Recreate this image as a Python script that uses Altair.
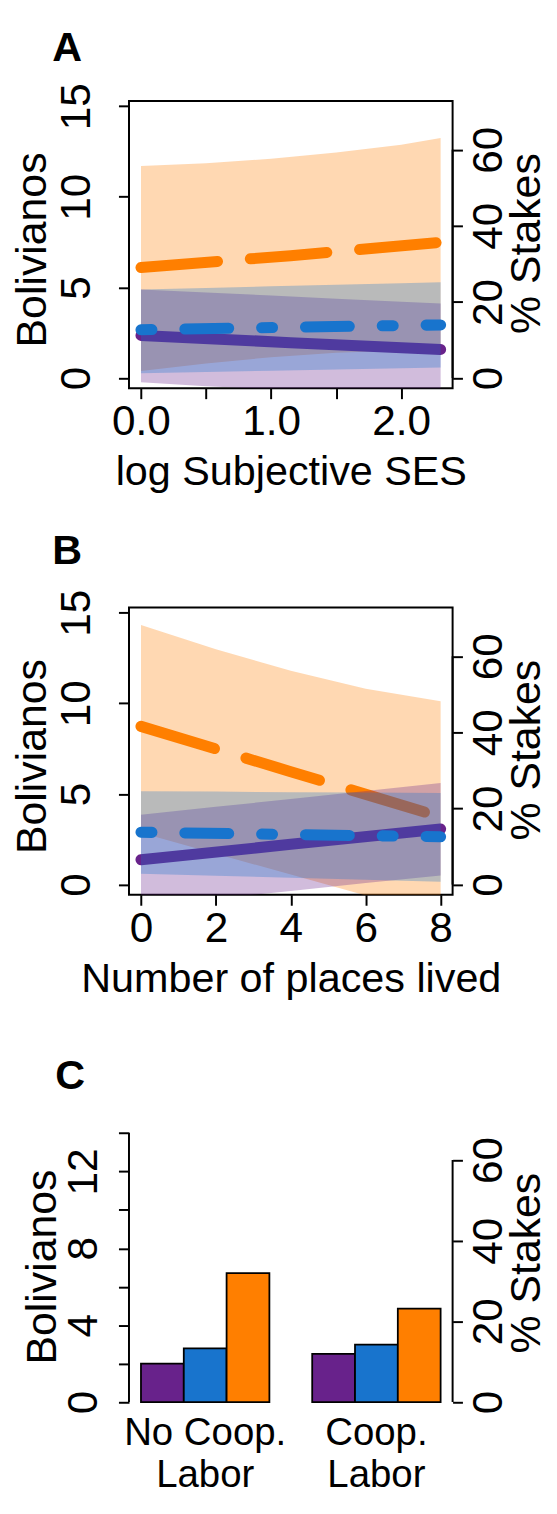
import altair as alt
import pandas as pd

PURPLE = "#68228B"
BLUE = "#1874CD"
ORANGE = "#FF7F00"
FONT = "Liberation Sans"
BS_PER_100PCT = 21.0  # Bolivianos that correspond to 100 % of the stakes

# ---------------- Panel A: log Subjective SES ----------------
a_band_x = [0.0, 0.5, 1.0, 1.5, 2.0, 2.3026]
a_orange_lo = [0.38, 0.80, 1.15, 1.40, 1.52, 1.57]
a_orange_hi = [11.70, 11.85, 12.10, 12.45, 12.87, 13.24]
a_blue_lo = [0.26, 0.33, 0.40, 0.47, 0.54, 0.58]
a_blue_hi = [4.88, 4.97, 5.06, 5.15, 5.23, 5.28]
a_purple_lo = [-0.23, -0.45, -0.62, -0.75, -0.86, -0.92]
a_purple_hi = [4.88, 4.72, 4.55, 4.38, 4.21, 4.11]
a_line_x = [0.0, 1.15, 2.3026]
a_orange_fit = [6.10, 6.75, 7.49]
a_blue_fit = [2.66, 2.80, 2.93]
a_purple_fit = [2.35, 1.95, 1.57]

# ---------------- Panel B: Number of places lived ----------------
b_band_x = [0, 2, 4, 6, 8]
b_orange_lo = [2.86, 1.70, 0.55, -0.60, -1.70]
b_orange_hi = [14.33, 12.98, 11.80, 10.81, 10.12]
b_blue_lo = [0.60, 0.49, 0.38, 0.26, 0.15]
b_blue_hi = [5.15, 5.13, 5.10, 5.08, 5.06]
b_purple_lo = [-1.20, -0.77, -0.35, 0.08, 0.50]
b_purple_hi = [3.85, 4.29, 4.72, 5.16, 5.60]
b_line_x = [0, 4, 8]
b_orange_fit = [8.73, 6.23, 3.73]
b_blue_fit = [2.89, 2.76, 2.64]
b_purple_fit = [1.37, 2.22, 3.07]

# ---------------- Panel C: cooperative labor ----------------
c_groups = ["No Coop. Labor", "Coop. Labor"]
c_series = ["s1", "s2", "s3"]
c_no_coop = [2.00, 2.79, 6.71]
c_coop = [2.51, 2.99, 4.86]

# ---------------- styling ----------------
W = 329
H = 292
H_C = 303.7
U = 11.15
LW = 11.2
ORANGE_DASH = [7 * U, 3 * U]
BLUE_DASH = [1 * U, 3 * U, 4 * U, 3 * U]
LBL = 43
YTTL = 43.5
XTTL = 42


def left_axis(values, label_expr=None, title_x=-85, title_y=151, pad=29.3):
    kw = dict(
        values=values, format="d", domain=False, grid=False,
        tickSize=10.7, tickWidth=2, tickColor="black",
        labelAngle=270, labelAlign="center", labelBaseline="alphabetic",
        labelPadding=pad, labelFontSize=LBL, labelFont=FONT, labelColor="black",
        labelOverlap=False, labelFlush=False,
        title="Bolivianos", titleFont=FONT, titleFontSize=YTTL,
        titleFontWeight="normal", titleColor="black", titleAngle=270,
        titleX=title_x, titleY=title_y, titleAlign="center",
        titleBaseline="alphabetic",
    )
    if label_expr:
        kw["labelExpr"] = label_expr
    return alt.Axis(**kw)


def right_axis(title_y):
    return alt.Axis(
        orient="right", values=[0, 20, 40, 60], format="d", domain=False,
        grid=False, tickSize=10, tickWidth=2, tickColor="black",
        labelAngle=270, labelAlign="center", labelBaseline="top",
        labelPadding=5.7, labelFontSize=LBL, labelFont=FONT,
        labelColor="black", labelOverlap=False, labelFlush=False,
        title="% Stakes", titleFont=FONT, titleFontSize=YTTL,
        titleFontWeight="normal", titleColor="black", titleAngle=270,
        titleX=88, titleY=title_y, titleAlign="center",
        titleBaseline="alphabetic",
    )


def bottom_axis(values, title, label_expr=None, fmt="d"):
    kw = dict(
        values=values, format=fmt, domain=False, grid=False,
        tickSize=10.7, tickWidth=2, tickColor="black",
        labelPadding=2.5, labelFontSize=LBL, labelFont=FONT,
        labelColor="black", labelOverlap=False, labelFlush=False,
        labelAlign="center", labelBaseline="top",
        title=title, titleFont=FONT, titleFontSize=XTTL,
        titleFontWeight="normal", titleColor="black",
        titleX=W / 2, titleY=98, titleAlign="center",
        titleBaseline="alphabetic",
    )
    if label_expr:
        kw["labelExpr"] = label_expr
    return alt.Axis(**kw)


def letter_layer(letter, dx, dy):
    return alt.Chart(pd.DataFrame({"t": [letter]})).mark_text(
        align="left", baseline="alphabetic", fontSize=42, fontWeight="bold",
        font=FONT, color="black",
    ).encode(text="t:N", x=alt.value(dx), y=alt.value(dy))


def right_layer(bs_domain, title_y):
    pdom = [v * 100 / BS_PER_100PCT for v in bs_domain]
    df = pd.DataFrame({"p0": [0], "p1": [60]})
    return alt.Chart(df).mark_rule(color="black", strokeWidth=2).encode(
        x=alt.value(W),
        y=alt.Y("p0:Q", scale=alt.Scale(domain=pdom, nice=False, zero=False),
                axis=right_axis(title_y)),
        y2="p1:Q",
    )


def line_panel(letter, letter_dy, band_x, series, line_x, xdomain, xaxis, ydomain):
    xs = alt.Scale(domain=xdomain, nice=False, zero=False)
    ys = alt.Scale(domain=ydomain, nice=False, zero=False)
    yax = left_axis([0, 5, 10, 15])
    layers = []
    for color, lo, hi, fit, dash in series:
        bdf = pd.DataFrame({"x": band_x, "lo": lo, "hi": hi})
        layers.append(
            alt.Chart(bdf).mark_area(fill=color, fillOpacity=0.3, clip=True,
                                     strokeWidth=0)
            .encode(x=alt.X("x:Q", scale=xs, axis=xaxis),
                    y=alt.Y("lo:Q", scale=ys, axis=yax), y2="hi:Q")
        )
        mk = dict(stroke=color, strokeWidth=LW, strokeCap="round")
        if dash:
            mk["strokeDash"] = dash
        ldf = pd.DataFrame({"x": line_x, "fit": fit})
        layers.append(
            alt.Chart(ldf).mark_line(**mk)
            .encode(x=alt.X("x:Q", scale=xs, axis=xaxis),
                    y=alt.Y("fit:Q", scale=ys, axis=yax))
        )
    rdf = pd.DataFrame({"b0": [0], "b1": [15]})
    layers.append(
        alt.Chart(rdf).mark_rule(color="black", strokeWidth=2).encode(
            x=alt.value(0), y=alt.Y("b0:Q", scale=ys, axis=yax), y2="b1:Q")
    )
    layers.append(letter_layer(letter, -78, letter_dy))
    left = alt.layer(*layers)
    return (
        alt.layer(left, right_layer(ydomain, 144.5))
        .resolve_scale(y="independent")
        .properties(width=W, height=H,
                    view=alt.ViewBackground(stroke="black", strokeWidth=2))
    )


YDOM = [-0.56, 15.29]

panel_a = line_panel(
    "A", -41, a_band_x,
    [
        (ORANGE, a_orange_lo, a_orange_hi, a_orange_fit, ORANGE_DASH),
        (PURPLE, a_purple_lo, a_purple_hi, a_purple_fit, None),
        (BLUE, a_blue_lo, a_blue_hi, a_blue_fit, BLUE_DASH),
    ],
    a_line_x, [-0.0921, 2.3947],
    bottom_axis([0, 0.5, 1, 1.5, 2], "log Subjective SES",
                label_expr="datum.value % 1 === 0 ? format(datum.value, '.1f') : ''",
                fmt=".1f"),
    YDOM,
)

panel_b = line_panel(
    "B", -44, b_band_x,
    [
        (ORANGE, b_orange_lo, b_orange_hi, b_orange_fit, ORANGE_DASH),
        (PURPLE, b_purple_lo, b_purple_hi, b_purple_fit, None),
        (BLUE, b_blue_lo, b_blue_hi, b_blue_fit, BLUE_DASH),
    ],
    b_line_x, [-0.32, 8.32],
    bottom_axis([0, 2, 4, 6, 8], "Number of places lived"),
    YDOM,
)

# ---- Panel C bars ----
rows = []
for g, vals in zip(c_groups, [c_no_coop, c_coop]):
    for s, v in zip(c_series, vals):
        rows.append({"group": g, "series": s, "value": v})
c_df = pd.DataFrame(rows)
C_DOM = [-0.56, 14.99]
cys = alt.Scale(domain=C_DOM, nice=False, zero=False)
c_left_axis = left_axis(
    [0, 2, 4, 6, 8, 10, 12, 14],
    label_expr="datum.value % 4 === 0 ? datum.label : ''",
    title_x=-75, title_y=155, pad=22.6,
)
bars = alt.Chart(c_df).mark_bar(stroke="black", strokeWidth=1.8).encode(
    x=alt.X(
        "group:N", sort=c_groups,
        scale=alt.Scale(paddingInner=0.25, paddingOuter=0.07),
        axis=alt.Axis(
            domain=False, ticks=False, tickSize=0, grid=False, labelAngle=0,
            labelPadding=1.5, labelFontSize=39, labelFont=FONT,
            labelColor="black", labelAlign="center", labelBaseline="top",
            labelLineHeight=42, labelOverlap=False, labelFlush=False,
            labelExpr="[replace(datum.label, ' Labor', ''), 'Labor']",
            title=None,
        ),
    ),
    xOffset=alt.XOffset("series:N", sort=c_series,
                        scale=alt.Scale(paddingInner=0, paddingOuter=0)),
    y=alt.Y("value:Q", scale=cys, axis=c_left_axis),
    color=alt.Color("series:N", sort=c_series,
                    scale=alt.Scale(domain=c_series,
                                    range=[PURPLE, BLUE, ORANGE]),
                    legend=None),
)
c_rule = alt.Chart(pd.DataFrame({"b0": [0], "b1": [14]})).mark_rule(
    color="black", strokeWidth=2
).encode(x=alt.value(0), y=alt.Y("b0:Q", scale=cys, axis=c_left_axis), y2="b1:Q")

c_left = alt.layer(bars, c_rule, letter_layer("C", -75, -25))
panel_c = (
    alt.layer(c_left, right_layer(C_DOM, 151))
    .resolve_scale(y="independent")
    .properties(width=W, height=H_C)
)

chart = (
    alt.vconcat(panel_a, panel_b, panel_c, spacing=223, bounds="flush")
    .properties(padding={"left": 2, "top": 6, "right": 0, "bottom": 0},
                background="white")
    .configure_view(stroke="transparent")
)

chart.save("out.html", embed_options={"renderer": "svg", "actions": False})
